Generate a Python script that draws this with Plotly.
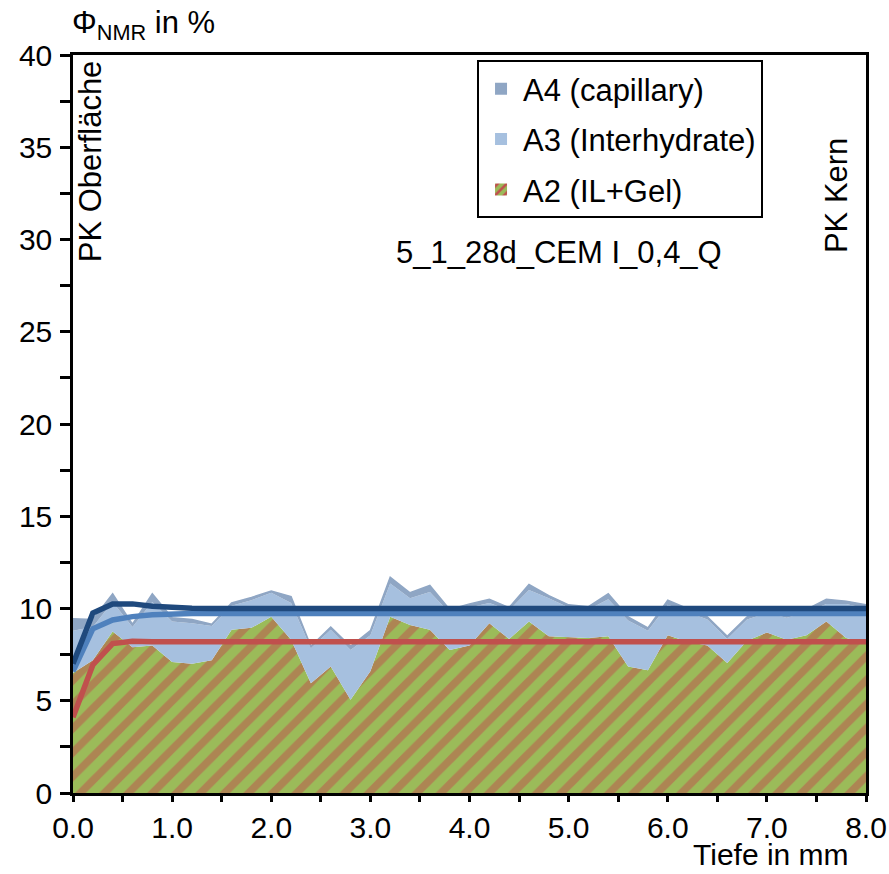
import plotly.graph_objects as go

# ---- data ----
depth = [0.0, 0.2, 0.4, 0.6, 0.8, 1.0, 1.2, 1.4, 1.6, 1.8, 2.0, 2.2, 2.4, 2.6, 2.8, 3.0,
         3.2, 3.4, 3.6, 3.8, 4.0, 4.2, 4.4, 4.6, 4.8, 5.0, 5.2, 5.4, 5.6, 5.8, 6.0, 6.2,
         6.4, 6.6, 6.8, 7.0, 7.2, 7.4, 7.6, 7.8, 8.0]

# A2 (IL+Gel)
a2 = [6.5, 7.2, 8.75, 7.9, 8.0, 7.1, 7.0, 7.2, 8.85, 8.95, 9.55, 8.3, 5.95, 6.85, 5.05, 6.6,
      9.55, 9.1, 8.85, 7.75, 8.0, 9.2, 8.35, 9.3, 8.5, 8.45, 8.4, 8.5, 6.85, 6.65, 8.55, 8.2,
      8.0, 7.05, 8.25, 8.7, 8.3, 8.55, 9.3, 8.4, 8.1]
# A2 + A3 (cumulative top of Interhydrate layer)
a3_cum = [8.8, 9.0, 10.35, 9.0, 10.35, 9.3, 9.2, 9.05, 10.15, 10.45, 10.85, 10.3, 7.85, 8.85, 7.75, 8.55,
          11.35, 10.55, 10.9, 9.75, 10.05, 10.3, 9.9, 11.0, 10.55, 10.05, 9.95, 10.5, 9.35, 8.8, 10.2, 9.8,
          9.4, 8.35, 9.4, 9.75, 9.5, 9.8, 10.25, 10.25, 10.0]
# A2 + A3 + A4 (cumulative total incl. capillary)
a4_cum = [9.45, 9.4, 10.8, 9.15, 10.8, 9.5, 9.4, 9.15, 10.3, 10.6, 10.95, 10.65, 7.95, 9.0, 7.95, 8.8,
          11.7, 10.85, 11.25, 9.95, 10.25, 10.5, 10.05, 11.3, 10.7, 10.2, 10.1, 10.8, 9.55, 8.95, 10.45, 10.0,
          9.55, 8.5, 9.55, 9.85, 9.6, 9.95, 10.5, 10.4, 10.2]

# fitted curves
fit_total = [7.0, 9.75, 10.25, 10.25, 10.12, 10.05, 10.02, 10.0, 10.0, 10.0, 10.0, 10.0, 10.0, 10.0, 10.0, 10.0,
             10.0, 10.0, 10.0, 10.0, 10.0, 10.0, 10.0, 10.0, 10.0, 10.0, 10.0, 10.0, 10.0, 10.0, 10.0, 10.0,
             10.0, 10.0, 10.0, 10.0, 10.0, 10.0, 10.0, 10.0, 10.0]
fit_a3 = [6.6, 8.9, 9.38, 9.56, 9.66, 9.71, 9.73, 9.73, 9.73, 9.73, 9.73, 9.73, 9.73, 9.73, 9.73, 9.73,
          9.73, 9.73, 9.73, 9.73, 9.73, 9.73, 9.73, 9.73, 9.73, 9.73, 9.73, 9.73, 9.73, 9.73, 9.73, 9.73,
          9.73, 9.73, 9.73, 9.73, 9.73, 9.73, 9.73, 9.73, 9.73]
fit_a2 = [4.1, 6.94, 8.1, 8.22, 8.2, 8.2, 8.2, 8.2, 8.2, 8.2, 8.2, 8.2, 8.2, 8.2, 8.2, 8.2,
          8.2, 8.2, 8.2, 8.2, 8.2, 8.2, 8.2, 8.2, 8.2, 8.2, 8.2, 8.2, 8.2, 8.2, 8.2, 8.2,
          8.2, 8.2, 8.2, 8.2, 8.2, 8.2, 8.2, 8.2, 8.2]

legend_names = ["A4 (capillary)", "A3 (Interhydrate)", "A2 (IL+Gel)"]

# ---- styles ----
GREEN = "#9BBB59"
RED = "#C0504D"
LIGHTBLUE = "#A6C0DF"
GREYBLUE = "#8FA6C4"
DARKBLUE = "#1F497D"
MIDBLUE = "#4F81BD"
FONT = "Liberation Sans, Arial, sans-serif"
FS_TICK = 30
FS_TEXT = 31

fig = go.Figure()

# stacked areas
fig.add_trace(go.Scatter(x=depth, y=a2, mode="lines", line=dict(width=0), fill="tozeroy",
                         fillcolor=GREEN,
                         fillpattern=dict(shape="/", bgcolor=GREEN, fgcolor=RED, size=17, solidity=0.45),
                         showlegend=False, hoverinfo="skip"))
fig.add_trace(go.Scatter(x=depth, y=a3_cum, mode="lines", line=dict(width=0), fill="tonexty",
                         fillcolor=LIGHTBLUE, showlegend=False, hoverinfo="skip"))
fig.add_trace(go.Scatter(x=depth, y=a4_cum, mode="lines", line=dict(width=1.5, color=GREYBLUE), fill="tonexty",
                         fillcolor=GREYBLUE, showlegend=False, hoverinfo="skip"))

# fitted lines
fig.add_trace(go.Scatter(x=depth, y=fit_a2, mode="lines", line=dict(width=5.5, color=RED),
                         showlegend=False))
fig.add_trace(go.Scatter(x=depth, y=fit_a3, mode="lines", line=dict(width=5.5, color=MIDBLUE),
                         showlegend=False))
fig.add_trace(go.Scatter(x=depth, y=fit_total, mode="lines", line=dict(width=5.5, color=DARKBLUE),
                         showlegend=False))

# legend entries (square swatches)
fig.add_trace(go.Bar(x=[None], y=[None], name=legend_names[0], legendgroup="g4",
                     marker=dict(color=GREYBLUE, line=dict(width=0))))
fig.add_trace(go.Bar(x=[None], y=[None], name=legend_names[1], legendgroup="g3",
                     marker=dict(color=LIGHTBLUE, line=dict(width=0))))
fig.add_trace(go.Bar(x=[None], y=[None], name=legend_names[2], legendgroup="g2",
                     marker=dict(color=GREEN, line=dict(width=0),
                                 pattern=dict(shape="/", bgcolor=GREEN, fgcolor=RED, size=8,
                                              solidity=0.4, fillmode="replace"))))

axis_common = dict(showline=True, linecolor="black", linewidth=2.5, mirror=True,
                   ticks="outside", tickwidth=2.5, tickcolor="black",
                   showgrid=False, zeroline=False, automargin=False,
                   tickfont=dict(family=FONT, size=FS_TICK, color="black"))

fig.update_xaxes(range=[0, 8], dtick=1, tick0=0, tickformat=".1f", ticklen=6,
                 minor=dict(dtick=0.5, ticks="outside", ticklen=6, tickwidth=2.5, tickcolor="black"),
                 **axis_common)
fig.update_yaxes(range=[0, 40], dtick=5, tick0=0, ticklen=10, ticklabelstandoff=2,
                 minor=dict(dtick=2.5, ticks="outside", ticklen=10, tickwidth=2.5, tickcolor="black"),
                 **axis_common)

annot_font = dict(family=FONT, size=FS_TEXT, color="black")
fig.update_layout(
    width=889, height=874,
    margin=dict(l=73, r=23, t=55, b=81),
    paper_bgcolor="white", plot_bgcolor="white",
    showlegend=True,
    legend=dict(x=0.5095, y=0.993, xanchor="left", yanchor="top",
                bordercolor="black", borderwidth=2, bgcolor="white",
                font=dict(family=FONT, size=FS_TEXT, color="black"),
                traceorder="grouped", tracegroupgap=7, itemwidth=34),
    annotations=[
        dict(text="Φ<sub>NMR</sub> in %", xref="paper", yref="paper", x=-0.004, y=1.041,
             xanchor="left", yanchor="middle", showarrow=False, font=annot_font),
        dict(text="PK Oberfläche", xref="paper", yref="paper", x=0.0214, y=0.856,
             xanchor="center", yanchor="middle", textangle=-90, showarrow=False, font=annot_font),
        dict(text="PK Kern", xref="paper", yref="paper", x=0.962, y=0.81,
             xanchor="center", yanchor="middle", textangle=-90, showarrow=False, font=annot_font),
        dict(text="5_1_28d_CEM I_0,4_Q", xref="paper", yref="paper", x=0.613, y=0.733,
             xanchor="center", yanchor="middle", showarrow=False, font=annot_font),
        dict(text="Tiefe in mm", xref="paper", yref="paper", x=0.88, y=-0.084,
             xanchor="center", yanchor="middle", showarrow=False,
             font=dict(family=FONT, size=30, color="black")),
    ],
)

fig.write_html("out.html")
